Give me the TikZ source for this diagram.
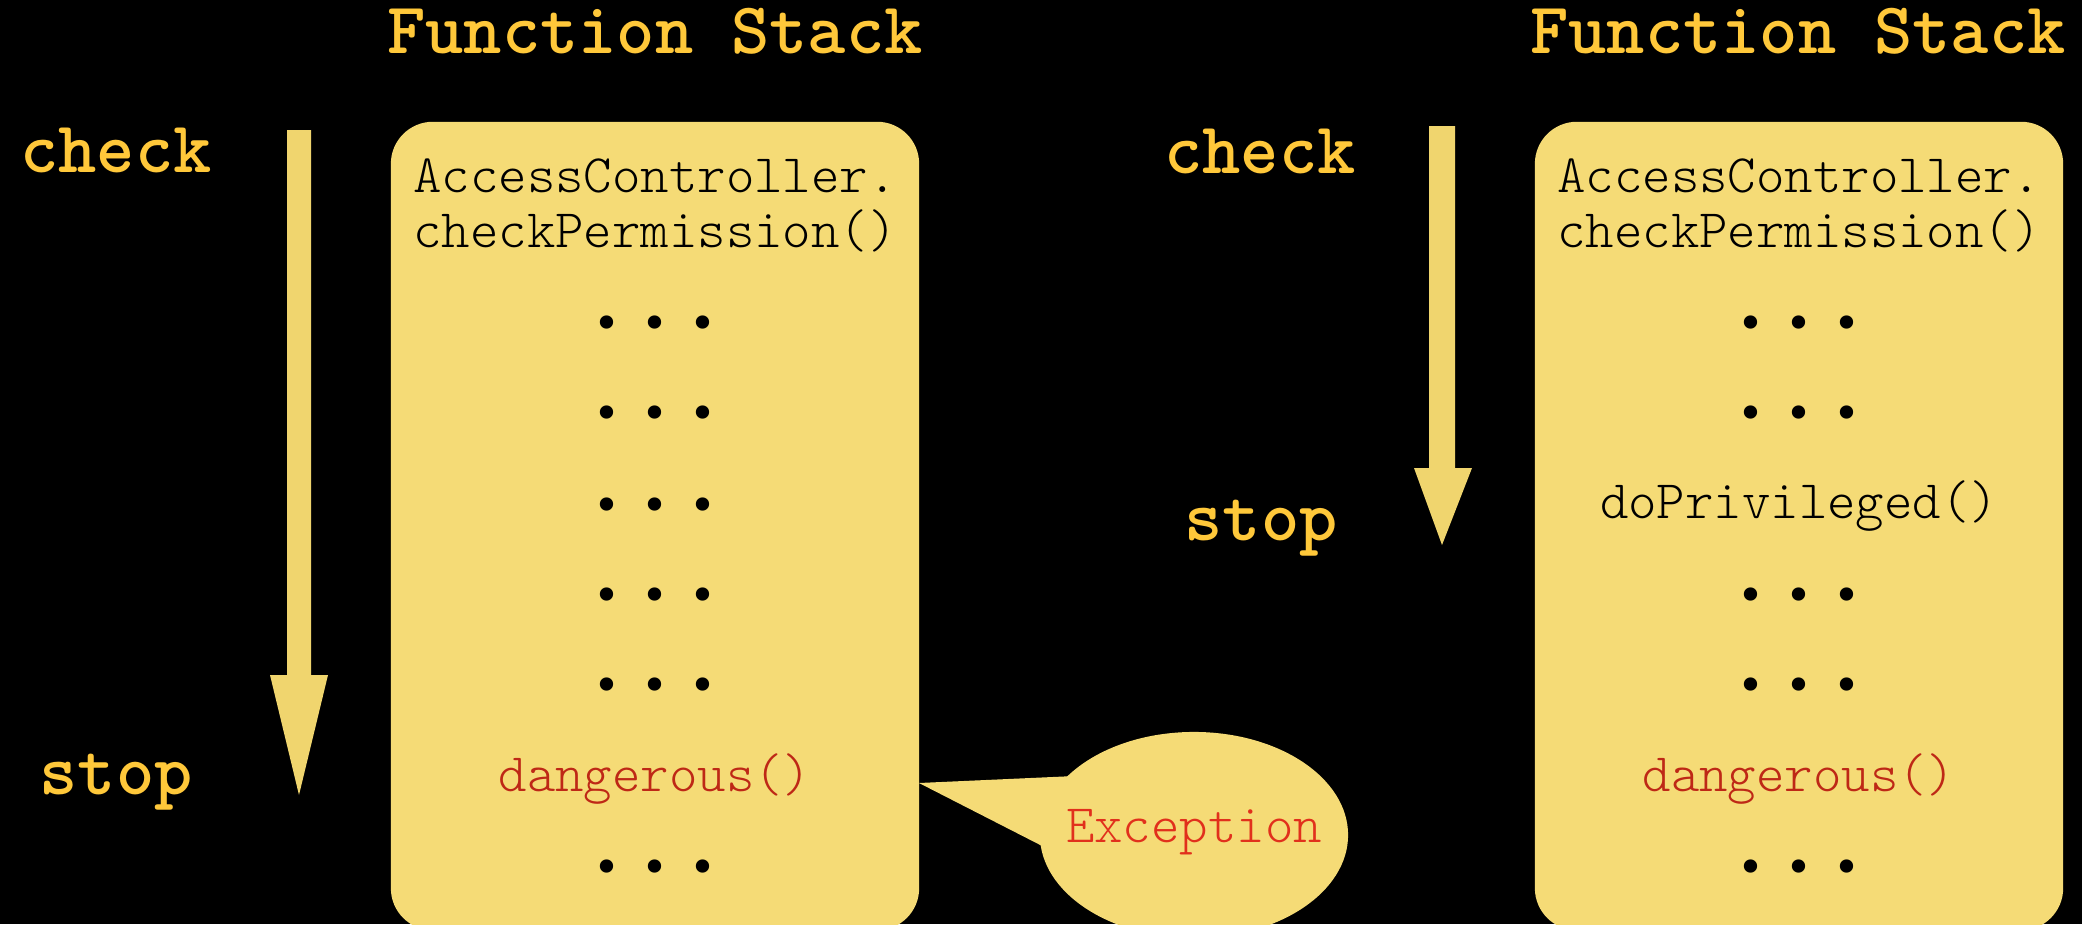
\documentclass[tikz,border=0pt]{standalone}
\usepackage{fontspec}
\newfontfamily\dotfont{DejaVu Sans}
\usetikzlibrary{shapes.geometric}
\definecolor{titleyellow}{RGB}{255,200,58}
\definecolor{paper}{RGB}{245,219,118}
\definecolor{arrowpaper}{RGB}{240,213,110}
\definecolor{dangerred}{RGB}{190,40,22}
\definecolor{excred}{RGB}{225,48,28}
\newcommand{\stackdots}{\makebox[0.48cm]{•}\makebox[0.48cm]{•}\makebox[0.48cm]{•}}
\tikzset{
    heading/.style={text=titleyellow,font=\ttfamily\bfseries\fontsize{20.7}{22}\selectfont,anchor=base,inner sep=0pt},
    stackbox/.style={fill=paper,rounded corners=0.42cm,minimum width=5.28cm,minimum height=8.08cm,inner sep=0pt},
    frame/.style={font=\ttfamily\fontseries{l}\fontsize{15.4}{15.4}\selectfont,anchor=base,inner sep=0pt,align=center},
    dots/.style={font=\dotfont\fontsize{13}{13}\selectfont,anchor=base,inner sep=0pt},
    bubble/.style={ellipse,fill=paper,minimum width=3.08cm,minimum height=2.06cm,inner sep=0pt},
    flow/.style={fill=arrowpaper}
}
\begin{document}
\begin{tikzpicture}[x=0.01cm,y=-0.01cm]
    \fill[black] (0,0) rectangle (2082,924);
    \useasboundingbox (0,0) rectangle (2082,924);
    %left stack
    \node[heading] (ltitle) at (655,53) {Function Stack};
    \node[heading] (lcheck) at (116,172) {check};
    \node[heading] (lstop) at (116,794) {stop};
    \fill[flow] (287,130) -- (311,130) -- (311,675) -- (328,675) -- (299,795)
        -- (270,675) -- (287,675) -- cycle;
    \node[stackbox] (lstack) at (655,526) {};
    \node[frame] (lcheckperm) at (655,247) {AccessController.\\checkPermission()};
    \foreach \y [count=\i] in {323,413,505,595,685,867}
        {%
            \node[dots] (ldots\i) at (655,\y+16) {\stackdots};
        }
    \node[frame,text=dangerred] (ldanger) at (655,791) {dangerous()};
    %exception callout
    \node[bubble] (exc) at (1194,835) {};
    \coordinate (tip) at (919,783);
    \fill[paper] (tip) -- (1075,776) -- (1050,850) -- cycle;
    \node[frame,text=excred] (exctext) at (1194,842) {Exception};
    %right stack
    \node[heading] (rtitle) at (1798,53) {Function Stack};
    \node[heading] (rcheck) at (1260,173) {check};
    \node[heading] (rstop) at (1261,540) {stop};
    \fill[flow] (1429,126) -- (1455,126) -- (1455,468) -- (1472,468) -- (1442,545)
        -- (1414,468) -- (1429,468) -- cycle;
    \node[stackbox] (rstack) at (1799,526) {};
    \node[frame] (rcheckperm) at (1799,247) {AccessController.\\checkPermission()};
    \foreach \y [count=\i] in {323,413,595,685,867}
        {%
            \node[dots] (rdots\i) at (1799,\y+16) {\stackdots};
        }
    \node[frame] (rpriv) at (1799,518) {doPrivileged()};
    \node[frame,text=dangerred] (rdanger) at (1799,791) {dangerous()};
\end{tikzpicture}
\end{document}
